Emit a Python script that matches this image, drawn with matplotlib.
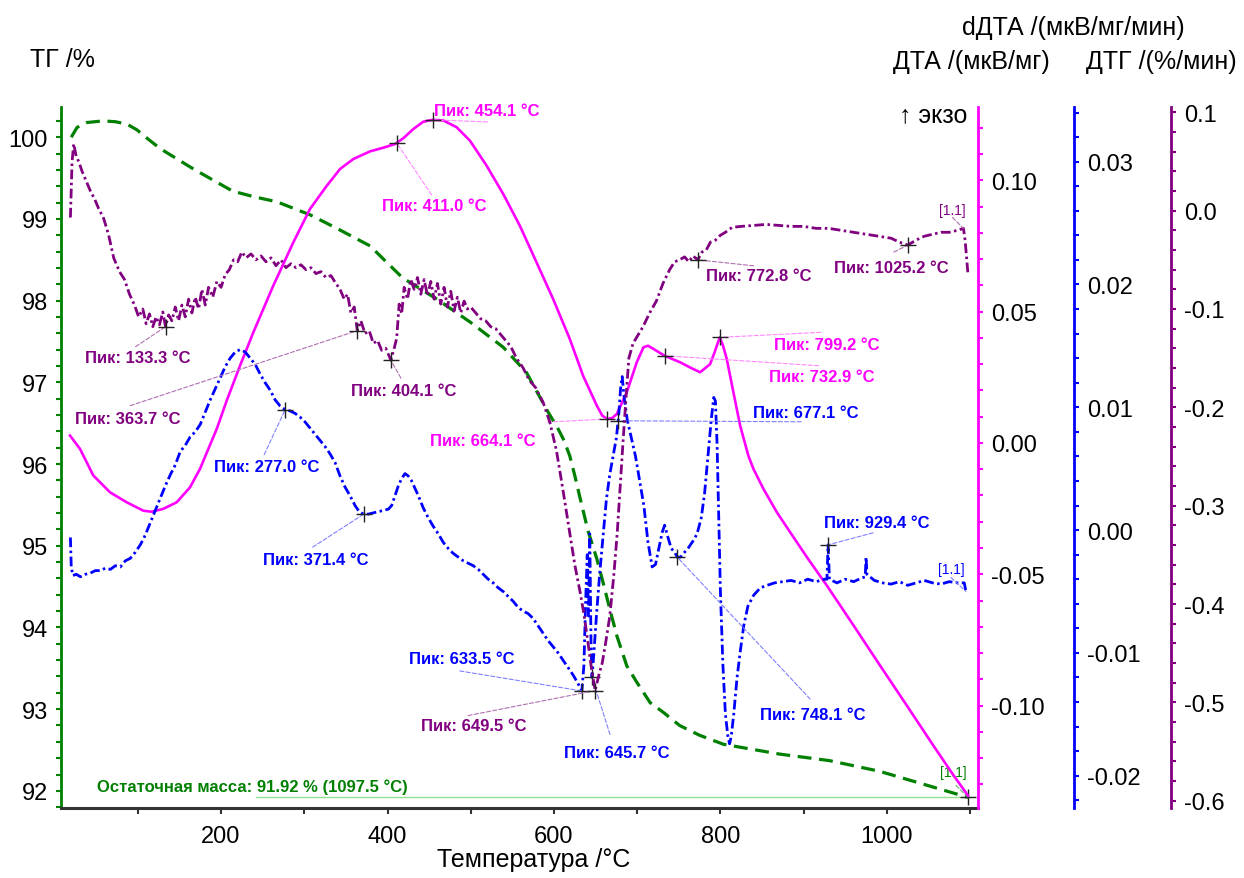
import numpy as np
import matplotlib
matplotlib.use("Agg")
import matplotlib.pyplot as plt
from matplotlib.ticker import MultipleLocator, FormatStrFormatter

# ---------------- data ----------------
tg_T = [20, 27, 39, 58, 73, 87, 99, 112, 127, 167, 214, 240, 267, 307, 340, 379, 418, 459, 499,
        539, 567, 591, 605, 612, 619, 625, 631, 641, 651.5, 659, 667, 675.5, 687.5, 699.5, 715.5,
        731.5, 751, 775, 803.6, 871, 931, 991, 1051, 1097.5]
tg_v = [100.00, 100.12, 100.18, 100.20, 100.19, 100.16, 100.09, 99.98, 99.86, 99.61, 99.34, 99.27,
        99.21, 99.05, 98.88, 98.67, 98.28, 98.02, 97.74, 97.43, 97.12, 96.67, 96.43, 96.29, 96.10,
        95.86, 95.60, 95.18, 94.84, 94.55, 94.23, 93.90, 93.53, 93.33, 93.08, 92.96, 92.80, 92.68,
        92.57, 92.45, 92.37, 92.24, 92.06, 91.92]

dta_T = [18.5, 30.6, 46.5, 66.6, 86.6, 106.6, 116.7, 130.6, 146.7, 162.7, 174.7, 184.7, 194.8,
         206.8, 222.8, 238.8, 262.8, 286.9, 306.9, 327, 343, 359, 379, 395, 409, 419, 431, 443,
         454.1, 467, 483, 499, 519, 539, 559, 579, 599, 619, 635, 651.5, 658, 664.1, 670, 675.5,
         687.5, 699.5, 707.5, 713, 719.5, 732.9, 751.6, 765, 775.6, 787.6, 793, 799.2, 803, 807.6,
         815.6, 823.7, 833.7, 839.7, 851.7, 867.8, 883.8, 905, 927.9, 960, 991.9, 1024, 1056, 1080,
         1097.5]
dta_v = [0.0028, -0.0023, -0.0124, -0.0188, -0.0226, -0.0258, -0.0262, -0.0251, -0.0226, -0.0169,
         -0.0099, -0.0023, 0.0053, 0.0161, 0.0294, 0.0421, 0.0599, 0.0764, 0.0891, 0.0979, 0.1043,
         0.1081, 0.1110, 0.1124, 0.1138, 0.1160, 0.1195, 0.1223, 0.1230, 0.1228, 0.1202, 0.1151,
         0.1056, 0.0948, 0.0827, 0.0688, 0.0548, 0.0396, 0.0256, 0.0142, 0.0104, 0.0091, 0.0095,
         0.0110, 0.0193, 0.0307, 0.0364, 0.0370, 0.0358, 0.0332, 0.0307, 0.0285, 0.0269, 0.0300,
         0.0345, 0.0402, 0.0372, 0.0320, 0.0193, 0.0066, -0.0050, -0.0099, -0.0175, -0.0264,
         -0.0340, -0.0440, -0.0543, -0.0695, -0.0848, -0.1000, -0.1153, -0.1265, -0.1343]

ddta_T = [19, 20, 22, 26, 31, 37, 43, 49, 55, 61, 67, 73, 79, 85, 91, 97, 103, 109, 115, 121, 127,
          133, 139, 145, 151, 157, 163, 169, 175, 181, 187, 193, 199, 205, 211, 217, 223, 229, 235,
          241, 247, 253, 259, 265, 271, 277, 283, 289, 295, 301, 307, 313, 319, 325, 331, 337, 343,
          349, 355, 361, 366, 371.4, 377, 383, 389, 395, 401, 405, 409, 413, 417, 421, 425, 429, 433,
          437, 443, 449, 455, 461, 467, 473, 479, 485, 491, 497, 503, 509, 515, 521, 527, 533, 539,
          545, 551, 557, 563, 569, 575, 581, 587, 593, 599, 605, 611, 617, 623, 629, 633.5, 636,
          638, 640, 641.5, 643, 644.5, 645.7, 648, 651, 655, 659, 663, 667, 671, 675, 678, 680, 682,
          684, 688, 693, 698, 703, 708, 713, 718, 722, 726, 730, 733, 737, 741, 745, 748.1, 752,
          757, 762, 767, 772, 777, 781, 785, 789, 792, 794, 796, 798, 800, 803, 806, 809, 811, 813,
          816, 820, 824, 828, 833, 840, 848, 856, 865, 875, 885, 895, 905, 915, 925, 928, 929.4,
          931, 940, 950, 960, 970, 974, 975, 976, 985, 995, 1005, 1015, 1025, 1035, 1045, 1055,
          1065, 1075, 1085, 1093, 1095]
ddta_v = [-0.0006, -0.0030, -0.0037, -0.0036, -0.0038, -0.0036, -0.0035, -0.0033, -0.0033,
          -0.0031, -0.0032, -0.0029, -0.0030, -0.0025, -0.0023, -0.0018, -0.0012, -0.0004, 0.0006,
          0.0016, 0.0026, 0.0036, 0.0045, 0.0053, 0.0064, 0.0069, 0.0076, 0.0080, 0.0086, 0.0096,
          0.0106, 0.0115, 0.0124, 0.0133, 0.0140, 0.0145, 0.0147, 0.0145, 0.0140, 0.0135, 0.0127,
          0.0120, 0.0114, 0.0106, 0.0101, 0.0098, 0.0097, 0.0095, 0.0092, 0.0088, 0.0083, 0.0078,
          0.0073, 0.0068, 0.0062, 0.0055, 0.0044, 0.0035, 0.0028, 0.0020, 0.0015, 0.0013, 0.0013,
          0.0014, 0.0015, 0.0016, 0.0017, 0.0020, 0.0028, 0.0036, 0.0042, 0.0046, 0.0044, 0.0040,
          0.0034, 0.0028, 0.0018, 0.0010, 0.0003, -0.0003, -0.0010, -0.0015, -0.0019, -0.0022,
          -0.0025, -0.0027, -0.0029, -0.0032, -0.0036, -0.0040, -0.0043, -0.0047, -0.0050, -0.0054,
          -0.0058, -0.0063, -0.0066, -0.0068, -0.0072, -0.0078, -0.0084, -0.0090, -0.0095, -0.0100,
          -0.0106, -0.0112, -0.0118, -0.0125, -0.0131, -0.0110, -0.0060, -0.0020, -0.0070, -0.0003,
          -0.0090, -0.0120, -0.0100, -0.0070, -0.0035, -0.0005, 0.0025, 0.0045, 0.0060, 0.0075,
          0.0095, 0.0115, 0.0125, 0.0110, 0.0090, 0.0075, 0.0060, 0.0040, 0.0020, -0.0010, -0.0030,
          -0.0028, -0.0015, -0.0002, 0.0004, -0.0006, -0.0015, -0.0018, -0.0022, -0.0022, -0.0018,
          -0.0014, -0.0009, -0.0003, 0.0010, 0.0030, 0.0060, 0.0090, 0.0108, 0.0105, 0.0070, 0.0010,
          -0.0050, -0.0110, -0.0150, -0.0168, -0.0174, -0.0168, -0.0150, -0.0120, -0.0098, -0.0078,
          -0.0062, -0.0053, -0.0047, -0.0045, -0.0043, -0.0042, -0.0041, -0.0043, -0.0040, -0.0042,
          -0.0040, -0.0040, -0.0012, -0.0040, -0.0043, -0.0040, -0.0042, -0.0039, -0.0038, -0.0022,
          -0.0036, -0.0041, -0.0043, -0.0044, -0.0042, -0.0045, -0.0043, -0.0041, -0.0043, -0.0044,
          -0.0042, -0.0043, -0.0043, -0.0050]

dtg_T = [19, 21, 23, 26, 29, 33, 38, 43, 48, 53, 59, 65, 71, 78, 84, 90, 96, 101, 106, 110, 114,
         118, 122, 126, 130, 133.3, 137, 141, 145, 149, 153, 157, 161, 165, 169, 173, 177, 181, 185,
         190, 195, 200, 205, 210, 215, 220, 225, 230, 236, 242, 248, 254, 260, 266, 272, 278, 284,
         290, 296, 302, 308, 314, 320, 326, 332, 338, 343, 348, 352, 356, 360, 363.7, 368, 373, 378,
         383, 388, 393, 398, 404.1, 408, 411, 414, 417, 420, 424, 428, 432, 436, 440, 444, 448, 452,
         456, 460, 464, 468, 472, 476, 480, 484, 488, 492, 496, 500, 506, 512, 518, 524, 530, 536,
         542, 548, 555, 563, 570, 578, 587, 595, 603, 611, 619, 625, 631, 636, 641, 645, 649.5, 654,
         658, 662, 667, 672, 676, 680, 683, 687, 690, 695, 700, 707, 715, 723, 731, 739, 745, 751,
         757, 762, 767, 772.8, 778, 783, 788, 794, 800, 806, 814, 825, 840, 855, 870, 885, 900, 915,
         930, 945, 960, 975, 990, 1005, 1015, 1025.2, 1035, 1045, 1055, 1065, 1075, 1085, 1092,
         1094, 1096, 1097.5]
dtg_v = [-0.007, 0.050, 0.068, 0.055, 0.050, 0.040, 0.030, 0.020, 0.012, 0.002, -0.008, -0.025,
         -0.048, -0.062, -0.070, -0.085, -0.096, -0.108, -0.100, -0.115, -0.105, -0.118, -0.108,
         -0.116, -0.103, -0.118, -0.106, -0.112, -0.098, -0.112, -0.096, -0.108, -0.090, -0.104,
         -0.088, -0.100, -0.080, -0.096, -0.078, -0.088, -0.072, -0.078, -0.065, -0.060, -0.050,
         -0.052, -0.042, -0.048, -0.044, -0.050, -0.046, -0.052, -0.048, -0.056, -0.050, -0.058,
         -0.054, -0.058, -0.055, -0.060, -0.058, -0.064, -0.062, -0.068, -0.066, -0.074, -0.080,
         -0.090, -0.085, -0.104, -0.098, -0.122, -0.112, -0.125, -0.122, -0.135, -0.132, -0.142,
         -0.140, -0.152, -0.140, -0.130, -0.095, -0.105, -0.078, -0.090, -0.070, -0.080, -0.068,
         -0.085, -0.070, -0.086, -0.072, -0.090, -0.074, -0.095, -0.078, -0.098, -0.082, -0.102,
         -0.088, -0.104, -0.092, -0.100, -0.098, -0.104, -0.110, -0.112, -0.118, -0.120, -0.126,
         -0.132, -0.138, -0.150, -0.160, -0.172, -0.180, -0.195, -0.215, -0.244, -0.285, -0.328,
         -0.360, -0.386, -0.410, -0.440, -0.465, -0.488, -0.472, -0.460, -0.440, -0.413, -0.370,
         -0.328, -0.275, -0.235, -0.185, -0.150, -0.135, -0.128, -0.118, -0.104, -0.092, -0.074,
         -0.060, -0.052, -0.050, -0.047, -0.052, -0.046, -0.050, -0.042, -0.040, -0.032, -0.030,
         -0.025, -0.022, -0.017, -0.016, -0.015, -0.014, -0.015, -0.016, -0.016, -0.018, -0.018,
         -0.020, -0.022, -0.024, -0.026, -0.028, -0.032, -0.035, -0.030, -0.026, -0.024, -0.022,
         -0.022, -0.020, -0.018, -0.030, -0.050, -0.065]

x_ticks = [200, 400, 600, 800, 1000]
residual_T = 1097.5
residual_mass = 91.92

# ---------------- style ----------------
W, H = 1244, 879
DPI = 100
PX = 72.0 / DPI  # points per pixel
plt.rcParams['font.family'] = ['Liberation Sans', 'DejaVu Sans']
plt.rcParams['axes.unicode_minus'] = False
plt.rcParams['lines.scale_dashes'] = False

ANN_FAM, ANN_SIZE = ['Liberation Sans', 'DejaVu Sans'], 12

GREEN = '#008000'
MAG = '#ff00ff'
BLUE = '#0000ff'
PURP = '#800080'

fig = plt.figure(figsize=(W / DPI, H / DPI), dpi=DPI)
L, R, B, T = 61, 978, 809, 108
ax = fig.add_axes([L / W, 1 - B / H, (R - L) / W, (B - T) / H])
ax.set_facecolor('none')
ax_dta = ax.twinx()
ax_ddta = ax.twinx()
ax_dtg = ax.twinx()

ax.set_xlim(7.7, 1109.5)
ax.set_ylim(91.79, 100.37)
ax_dta.set_ylim(-0.139, 0.1279)
ax_ddta.set_ylim(-0.02263, 0.03445)
ax_dtg.set_ylim(-0.6074, 0.1054)

TICKFS = 17
for s in ['top', 'right']:
    ax.spines[s].set_visible(False)
ax.spines['left'].set_color(GREEN)
ax.spines['left'].set_linewidth(2)
ax.spines['bottom'].set_color('#333333')
ax.spines['bottom'].set_linewidth(2.2)
ax.xaxis.set_minor_locator(MultipleLocator(100))
ax.set_xticks(x_ticks)
ax.yaxis.set_major_locator(MultipleLocator(1))
ax.yaxis.set_minor_locator(MultipleLocator(0.2))
ax.tick_params(axis='x', which='both', direction='out', length=4, width=1.5, color='#333333',
               labelsize=TICKFS, pad=8)
ax.tick_params(axis='y', which='both', direction='out', length=3.5, width=1.5, color=GREEN,
               labelsize=TICKFS, pad=6)

def style_right(a, color, offset_px, major, minor, fmt):
    for s in ['top', 'left', 'bottom']:
        a.spines[s].set_visible(False)
    a.spines['right'].set_position(('outward', offset_px * PX))
    a.spines['right'].set_color(color)
    a.spines['right'].set_linewidth(2)
    a.yaxis.set_major_locator(MultipleLocator(major))
    a.yaxis.set_minor_locator(MultipleLocator(minor))
    a.yaxis.set_major_formatter(FormatStrFormatter(fmt))
    a.tick_params(axis='y', which='both', direction='out', length=3.5, width=1.5, color=color,
                  labelsize=TICKFS, pad=6)

style_right(ax_dta, MAG, 0, 0.05, 0.01, '%.2f')
style_right(ax_ddta, BLUE, 96, 0.01, 0.002, '%.2f')
style_right(ax_dtg, PURP, 193, 0.1, 0.02, '%.1f')

# ---------------- curves ----------------
ax.plot(tg_T, tg_v, color=GREEN, lw=2.3, dashes=(10, 5.5), zorder=3)
ax_dta.plot(dta_T, dta_v, color=MAG, lw=1.9, zorder=3)
ax_ddta.plot(ddta_T, ddta_v, color=BLUE, lw=2.0, dashes=(7, 2.5, 1.8, 2.5), zorder=3)
ax_dtg.plot(dtg_T, dtg_v, color=PURP, lw=2.0, dashes=(7, 2.5, 1.8, 2.5), zorder=3)

# residual mass line and text
ax.plot([242, residual_T], [residual_mass, residual_mass], color='#90e090', lw=1.0, zorder=2)
ax.annotate('Остаточная масса: %.2f %% (%.1f °C)' % (residual_mass, residual_T),
            xy=(51, residual_mass), xytext=(0, 11), textcoords='offset pixels',
            ha='left', va='center', color=GREEN, fontsize=ANN_SIZE, family=ANN_FAM,
            fontweight='bold')

LEAD = {MAG: '#ff88ff', BLUE: '#8080ff', PURP: '#b070b0', GREEN: '#70b070'}

def peak(a, Ts, Vs, t, color, label, lead, txt, ha='left', mark=True, fs=None, bold=True):
    v = float(np.interp(t, Ts, Vs))
    a.annotate('', xy=(t, v), xytext=(lead[0], -lead[1]), textcoords='offset pixels',
               arrowprops=dict(arrowstyle='-', color=LEAD[color], lw=0.8, ls=(0, (3, 1.5)),
                               shrinkA=0, shrinkB=0), zorder=5)
    a.annotate(label, xy=(t, v), xytext=(txt[0], -txt[1]), textcoords='offset pixels',
               ha=ha, va='center', color=color, fontsize=fs or ANN_SIZE, family=ANN_FAM,
               fontweight='bold' if bold else 'normal', zorder=6)
    if mark:
        a.plot([t], [v], marker='+', ms=12, mew=1.0, color='#222222', zorder=7)

# DTA peaks
peak(ax_dta, dta_T, dta_v, 454.1, MAG, 'Пик: 454.1 °C', (55, 2), (1, -9))
peak(ax_dta, dta_T, dta_v, 411.0, MAG, 'Пик: 411.0 °C', (35, 52), (-15, 63))
peak(ax_dta, dta_T, dta_v, 664.1, MAG, 'Пик: 664.1 °C', (-60, 3), (-177, 21))
peak(ax_dta, dta_T, dta_v, 799.2, MAG, 'Пик: 799.2 °C', (101, -5), (54, 7))
peak(ax_dta, dta_T, dta_v, 732.9, MAG, 'Пик: 732.9 °C', (154, 10), (104, 21))
# DTG peaks
peak(ax_dtg, dtg_T, dtg_v, 133.3, PURP, 'Пик: 133.3 °C', (-30, 20), (-81, 31))
peak(ax_dtg, dtg_T, dtg_v, 363.7, PURP, 'Пик: 363.7 °C', (-227, 75), (-282, 88))
peak(ax_dtg, dtg_T, dtg_v, 404.1, PURP, 'Пик: 404.1 °C', (10, 18), (-40, 30))
peak(ax_dtg, dtg_T, dtg_v, 649.5, PURP, 'Пик: 649.5 °C', (-127, 25), (-174, 35))
peak(ax_dtg, dtg_T, dtg_v, 772.8, PURP, 'Пик: 772.8 °C', (56, 6), (8, 16))
peak(ax_dtg, dtg_T, dtg_v, 1025.2, PURP, 'Пик: 1025.2 °C', (-14, 7), (-74, 22))
peak(ax_dtg, dtg_T, dtg_v, 1092, PURP, '[1.1]', (-11, -11), (-11, -18), ha='center',
     mark=False, fs=10, bold=False)
# dDTA peaks
peak(ax_ddta, ddta_T, ddta_v, 277.0, BLUE, 'Пик: 277.0 °C', (-21, 45), (-71, 57))
peak(ax_ddta, ddta_T, ddta_v, 371.4, BLUE, 'Пик: 371.4 °C', (-51, 33), (-101, 45))
peak(ax_ddta, ddta_T, ddta_v, 633.5, BLUE, 'Пик: 633.5 °C', (-122, -20), (-173, -32))
peak(ax_ddta, ddta_T, ddta_v, 645.7, BLUE, 'Пик: 645.7 °C', (18, 57), (-28, 75))
peak(ax_ddta, ddta_T, ddta_v, 677.1, BLUE, 'Пик: 677.1 °C', (183, 1), (135, -8))
peak(ax_ddta, ddta_T, ddta_v, 748.1, BLUE, 'Пик: 748.1 °C', (133, 142), (83, 157))
peak(ax_ddta, ddta_T, ddta_v, 929.4, BLUE, 'Пик: 929.4 °C', (45, -12), (-4, -22))
peak(ax_ddta, ddta_T, ddta_v, 1095, BLUE, '[1.1]', (-15, -14), (-15, -22), ha='center',
     mark=False, fs=10, bold=False)
# TG end
peak(ax, tg_T, tg_v, residual_T, GREEN, '[1.1]', (-12, -12), (-15, -25), ha='center',
     mark=True, fs=10, bold=False)

# ---------------- axis titles ----------------
LBL = 18
fig.text(30 / W, 1 - 60 / H, 'ТГ /%', ha='left', va='center', fontsize=LBL)
fig.text(1073 / W, 1 - 28 / H, 'dДТА /(мкВ/мг/мин)', ha='center', va='center', fontsize=LBL)
fig.text(1050 / W, 1 - 62 / H, 'ДТА /(мкВ/мг)', ha='right', va='center', fontsize=LBL)
fig.text(1237 / W, 1 - 62 / H, 'ДТГ /(%/мин)', ha='right', va='center', fontsize=LBL)
fig.text(967 / W, 1 - 115 / H, '↑ экзо', ha='right', va='center', fontsize=LBL)
fig.text(534 / W, 1 - 860 / H, 'Температура /°C', ha='center', va='center', fontsize=LBL)

fig.savefig('out.png', dpi=DPI)
